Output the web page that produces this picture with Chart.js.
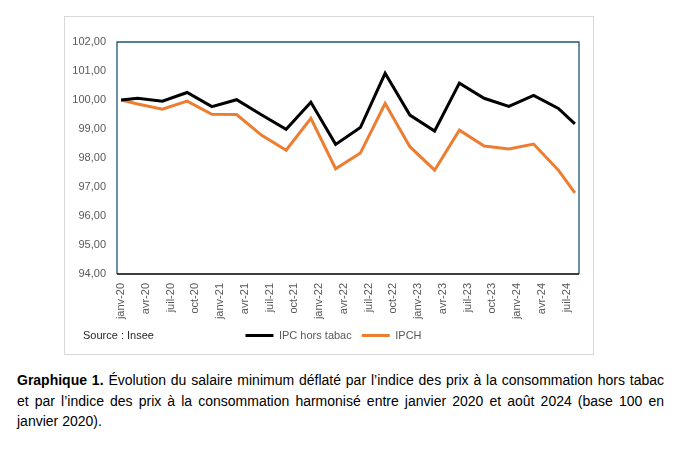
<!DOCTYPE html>
<html lang="fr">
<head>
<meta charset="utf-8">
<script src="https://cdn.jsdelivr.net/npm/chart.js@4/dist/chart.umd.min.js"></script>
<style>
  html, body { margin: 0; padding: 0; background: #ffffff; }
  body { width: 679px; height: 449px; position: relative; overflow: hidden; }
  #box { position: absolute; left: 64px; top: 16px; width: 530px; height: 339px; border: 1px solid #d9d9d9; box-sizing: border-box; }
  #wrap { position: absolute; left: 64px; top: 16px; width: 530px; height: 339px; }
  #source { position: absolute; left: 83px; top: 329px; font-family: "Liberation Sans", Arial, sans-serif; font-size: 11px; color: #262626; }
  .cap { position: absolute; left: 17px; width: 647px; font-family: "Liberation Sans Narrow", "Liberation Sans", Arial, sans-serif; font-size: 14px; color: #000; white-space: nowrap; }
  .just { text-align: justify; text-align-last: justify; white-space: normal; }
</style>
</head>
<body>
<div id="box"></div>
<div id="wrap"><canvas id="c" width="530" height="339"></canvas></div>
<div id="source">Source : Insee</div>
<div class="cap just" style="top:372px;"><b>Graphique 1.</b> Évolution du salaire minimum déflaté par l’indice des prix à la consommation hors tabac</div>
<div class="cap just" style="top:393px;">et par l’indice des prix à la consommation harmonisé entre janvier 2020 et août 2024 (base 100 en</div>
<div class="cap" style="top:413px;">janvier 2020).</div>
<script>
// Month names and years used for the (monthly) category axis
const monthNames = ['janv','févr','mars','avr','mai','juin','juil','août','sept','oct','nov','déc'];
const years = ['20','21','22','23','24'];
const lastMonthLabel = 'août-24';

// Observation dates
const categories = ['janv-20','mars-20','juin-20','sept-20','déc-20',
  'mars-21','juin-21','sept-21','déc-21',
  'mars-22','juin-22','sept-22','déc-22',
  'mars-23','juin-23','sept-23','déc-23',
  'mars-24','juin-24','août-24'];

// Series values (base 100 in janv-20)
const ipcHorsTabac = [100.00, 100.06, 99.96, 100.26, 99.77,
  100.01, 99.49, 98.99, 99.92,
  98.47, 99.05, 100.92, 99.48,
  98.93, 100.58, 100.06, 99.78,
  100.16, 99.71, 99.18];
const ipch = [100.00, 99.86, 99.68, 99.96, 99.51,
  99.50, 98.79, 98.27, 99.37,
  97.63, 98.17, 99.88, 98.39,
  97.58, 98.96, 98.41, 98.31,
  98.48, 97.58, 96.80];

// Y-axis tick range
const yMin = 94, yMax = 102, yStep = 1;

// Build full monthly axis labels
const monthLabels = [];
outer: for (const y of years) {
  for (const m of monthNames) {
    const l = m + '-' + y;
    monthLabels.push(l);
    if (l === lastMonthLabel) break outer;
  }
}

const frameBorder = {
  id: 'frameBorder',
  afterLayout(chart) {
    if (chart.legend) { chart.legend.left += 12; chart.legend.right += 12; }
  },
  afterDatasetsDraw(chart) {
    const { ctx, chartArea: a } = chart;
    ctx.save();
    ctx.strokeStyle = '#1f5673';
    ctx.lineWidth = 1.3;
    ctx.beginPath();
    ctx.moveTo(a.left, a.bottom);
    ctx.lineTo(a.left, a.top);
    ctx.lineTo(a.right, a.top);
    ctx.lineTo(a.right, a.bottom);
    ctx.stroke();
    ctx.strokeStyle = '#000000';
    ctx.beginPath();
    ctx.moveTo(a.left, a.bottom);
    ctx.lineTo(a.right, a.bottom);
    ctx.stroke();
    ctx.restore();
  }
};

const tickFont = { family: '"Liberation Sans", Arial, sans-serif', size: 11 };

new Chart(document.getElementById('c'), {
  type: 'line',
  data: {
    labels: monthLabels,
    datasets: [
      { label: 'IPC hors tabac', data: categories.map((c, i) => ({ x: c, y: ipcHorsTabac[i] })),
        borderColor: '#000000', backgroundColor: '#000000', borderWidth: 3, pointRadius: 0, tension: 0 },
      { label: 'IPCH', data: categories.map((c, i) => ({ x: c, y: ipch[i] })),
        borderColor: '#ed7d31', backgroundColor: '#ed7d31', borderWidth: 3, pointRadius: 0, tension: 0 }
    ]
  },
  options: {
    responsive: false,
    animation: false,
    devicePixelRatio: 1,
    layout: { padding: { top: 26, right: 15, left: 0, bottom: 4 } },
    plugins: {
      tooltip: { enabled: false },
      legend: {
        position: 'bottom',
        labels: {
          usePointStyle: true, pointStyle: 'line', pointStyleWidth: 28,
          boxHeight: 11,
          padding: 10,
          color: '#595959',
          font: tickFont
        }
      }
    },
    scales: {
      x: {
        type: 'category',
        offset: true,
        grid: { display: false, drawTicks: false },
        border: { display: false },
        ticks: {
          autoSkip: false, maxRotation: 90, minRotation: 90, padding: 9,
          color: '#595959', font: tickFont,
          callback: function (v, i) { return i % 3 === 0 ? this.getLabelForValue(v) : null; }
        },
        afterFit: s => { s.height = 46; }
      },
      y: {
        min: yMin, max: yMax,
        grid: { display: false, drawTicks: false },
        border: { display: false },
        ticks: {
          stepSize: yStep, padding: 11, color: '#595959', font: tickFont,
          callback: v => v.toFixed(2).replace('.', ',')
        },
        afterFit: s => { s.width = 53; }
      }
    }
  },
  plugins: [frameBorder]
});
</script>
</body>
</html>
